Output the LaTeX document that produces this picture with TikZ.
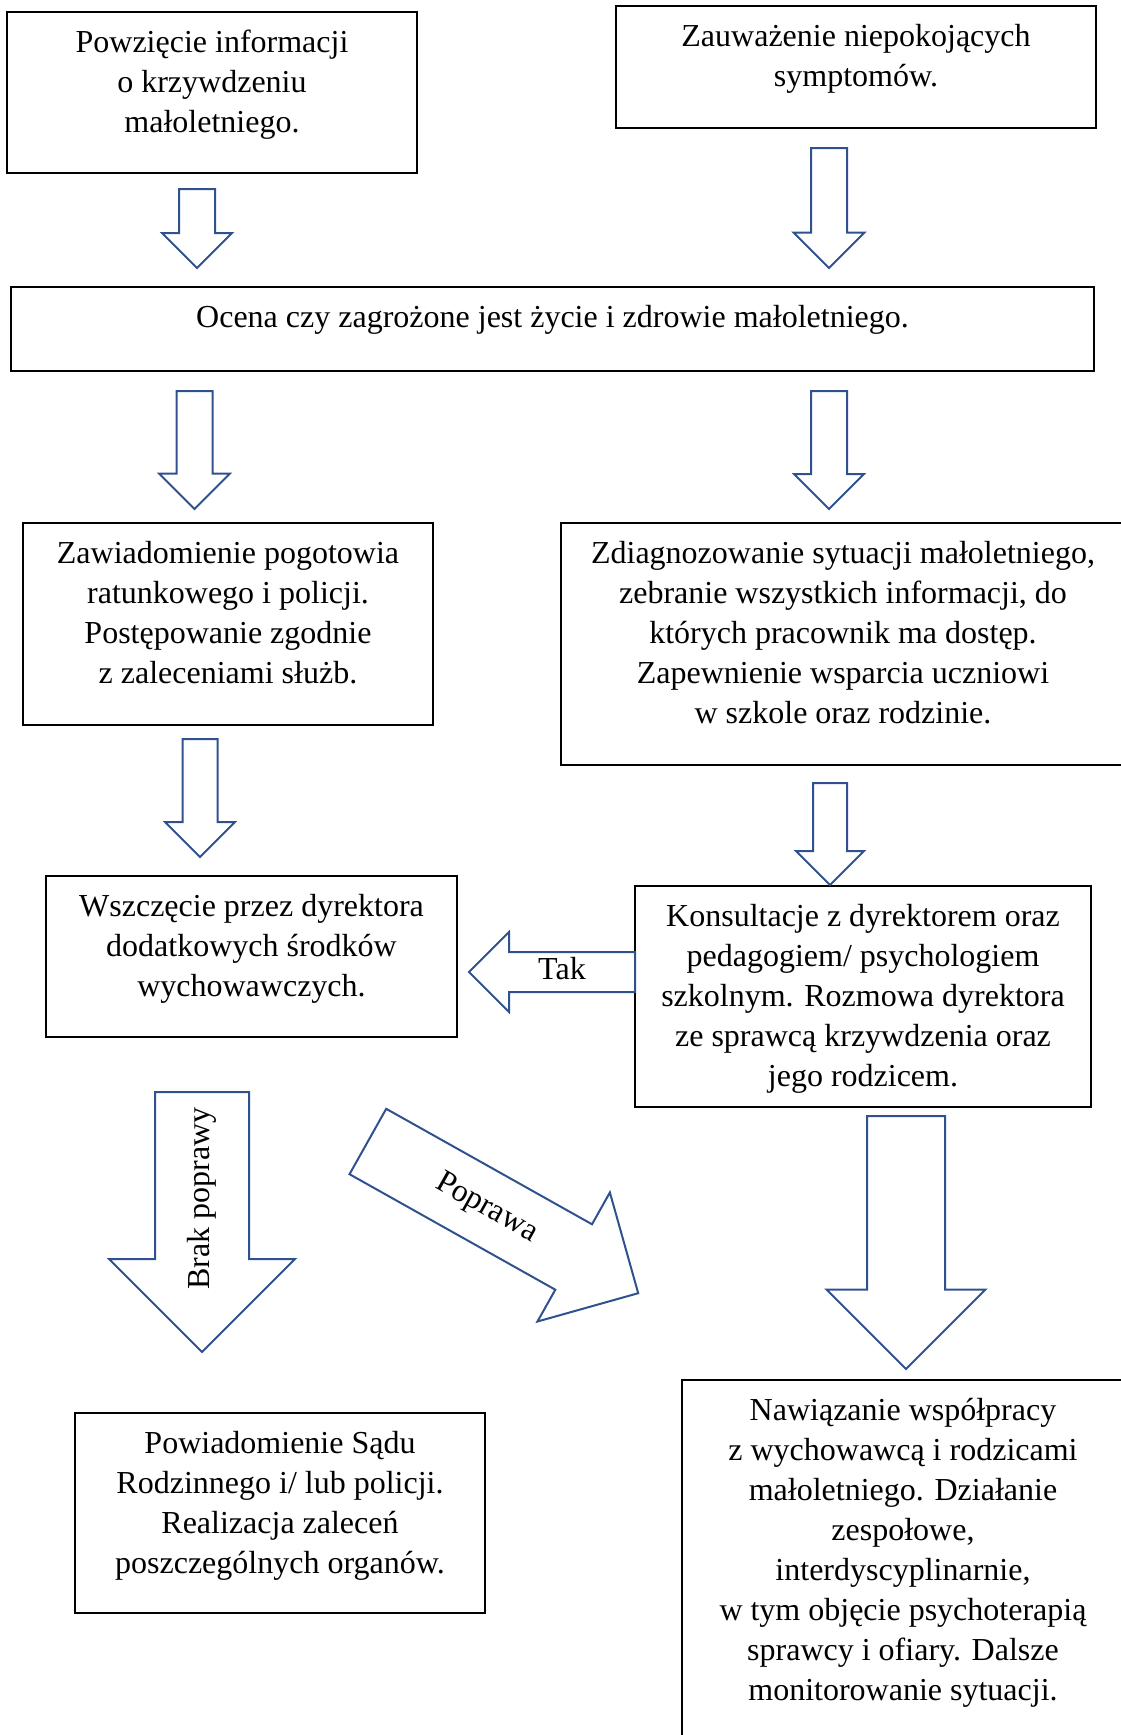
\documentclass[tikz,border=0pt]{standalone}
\usepackage{fontspec}
\setmainfont{Liberation Serif}
\usetikzlibrary{shapes.arrows}
\definecolor{arrowblue}{RGB}{47,82,143}

\tikzset{
  box/.style={draw, line width=1.6pt, inner sep=0pt},
  boxtext/.style={anchor=north, yshift=-19pt, align=center, inner sep=0pt},
  blockarrow/.style={single arrow, draw=arrowblue, line width=2pt, inner xsep=0pt, text height=22pt, text depth=7pt, single arrow tip angle=90, anchor=tail}
}

\begin{document}
\begin{tikzpicture}[x=1pt, y=-1pt, font=\fontsize{32pt}{40pt}\selectfont]
      \useasboundingbox (0,0) rectangle (1120,1735);

      \node[box, minimum width=410pt, minimum height=161pt, label={[boxtext]north:{Powzięcie informacji\\o krzywdzeniu\\małoletniego.}}] (info) at (212,92.5) {};
      \node[box, minimum width=480pt, minimum height=122pt, label={[boxtext]north:{Zauważenie niepokojących\\symptomów.}}] (symptoms) at (856,67) {};
      \node[box, minimum width=1083pt, minimum height=84pt, label={[boxtext]north:{Ocena czy zagrożone jest życie i zdrowie małoletniego.}}] (assess) at (552.5,329) {};
      \node[box, minimum width=410pt, minimum height=202pt, label={[boxtext]north:{Zawiadomienie pogotowia\\ratunkowego i policji.\\Postępowanie zgodnie\\z zaleceniami służb.}}] (emergency) at (228,624) {};
      \node[box, minimum width=564pt, minimum height=242pt, label={[boxtext]north:{Zdiagnozowanie sytuacji małoletniego,\\zebranie wszystkich informacji, do\\których pracownik ma dostęp.\\Zapewnienie wsparcia uczniowi\\w szkole oraz rodzinie.}}] (diagnosis) at (843,644) {};
      \node[box, minimum width=411pt, minimum height=161pt, label={[boxtext]north:{Wszczęcie przez dyrektora\\dodatkowych środków\\wychowawczych.}}] (measures) at (251.5,956.5) {};
      \node[box, minimum width=456pt, minimum height=221pt, label={[boxtext]north:{Konsultacje z dyrektorem oraz\\pedagogiem/ psychologiem\\szkolnym. Rozmowa dyrektora\\ze sprawcą krzywdzenia oraz\\jego rodzicem.}}] (consult) at (863,996.5) {};
      \node[box, minimum width=410pt, minimum height=200pt, label={[boxtext]north:{Powiadomienie Sądu\\Rodzinnego i/ lub policji.\\Realizacja zaleceń\\poszczególnych organów.}}] (court) at (280,1513) {};
      \node[box, minimum width=442pt, minimum height=380pt, label={[boxtext]north:{Nawiązanie współpracy\\z wychowawcą i rodzicami\\małoletniego. Działanie\\zespołowe,\\interdyscyplinarnie,\\w tym objęcie psychoterapią\\sprawcy i ofiary. Dalsze\\monitorowanie sytuacji.}}] (cooperation) at (903,1570) {};

      \node[blockarrow, rotate=-90, minimum height=79pt, minimum width=68pt, inner ysep=2.5pt, single arrow head extend=17pt] (a1) at (197,188) {};
      \node[blockarrow, rotate=-90, minimum height=120pt, minimum width=69pt, inner ysep=2.5pt, single arrow head extend=17.5pt] (a2) at (829,147) {};
      \node[blockarrow, rotate=-90, minimum height=118pt, minimum width=69pt, inner ysep=2.5pt, single arrow head extend=17.5pt] (a3) at (194.5,390) {};
      \node[blockarrow, rotate=-90, minimum height=118pt, minimum width=68pt, inner ysep=2.5pt, single arrow head extend=17pt] (a4) at (829,390) {};
      \node[blockarrow, rotate=-90, minimum height=118pt, minimum width=68pt, inner ysep=2pt, single arrow head extend=17.5pt] (a5) at (200,738) {};
      \node[blockarrow, rotate=-90, minimum height=102pt, minimum width=66pt, inner ysep=1.5pt, single arrow head extend=17pt] (a6) at (830,782) {};
      \node[blockarrow, shape border rotate=180, minimum height=166pt, minimum width=78pt, inner ysep=4.5pt, single arrow head extend=20pt] (yes) at (636,972) {Tak};
      \node[blockarrow, rotate=90, shape border rotate=180, minimum height=260pt, minimum width=184pt, inner ysep=31.5pt, single arrow head extend=46pt] (noimprove) at (202,1091) {Brak poprawy};
      \node[blockarrow, rotate=-29.3, minimum height=310pt, minimum width=146pt, inner ysep=22pt, single arrow head extend=36.5pt] (improve) at (367,1141) {Poprawa};
      \node[blockarrow, rotate=-90, minimum height=253pt, minimum width=157pt, inner ysep=23.5pt, single arrow head extend=40.5pt] (a8) at (906,1115) {};
    \end{tikzpicture}
\end{document}
